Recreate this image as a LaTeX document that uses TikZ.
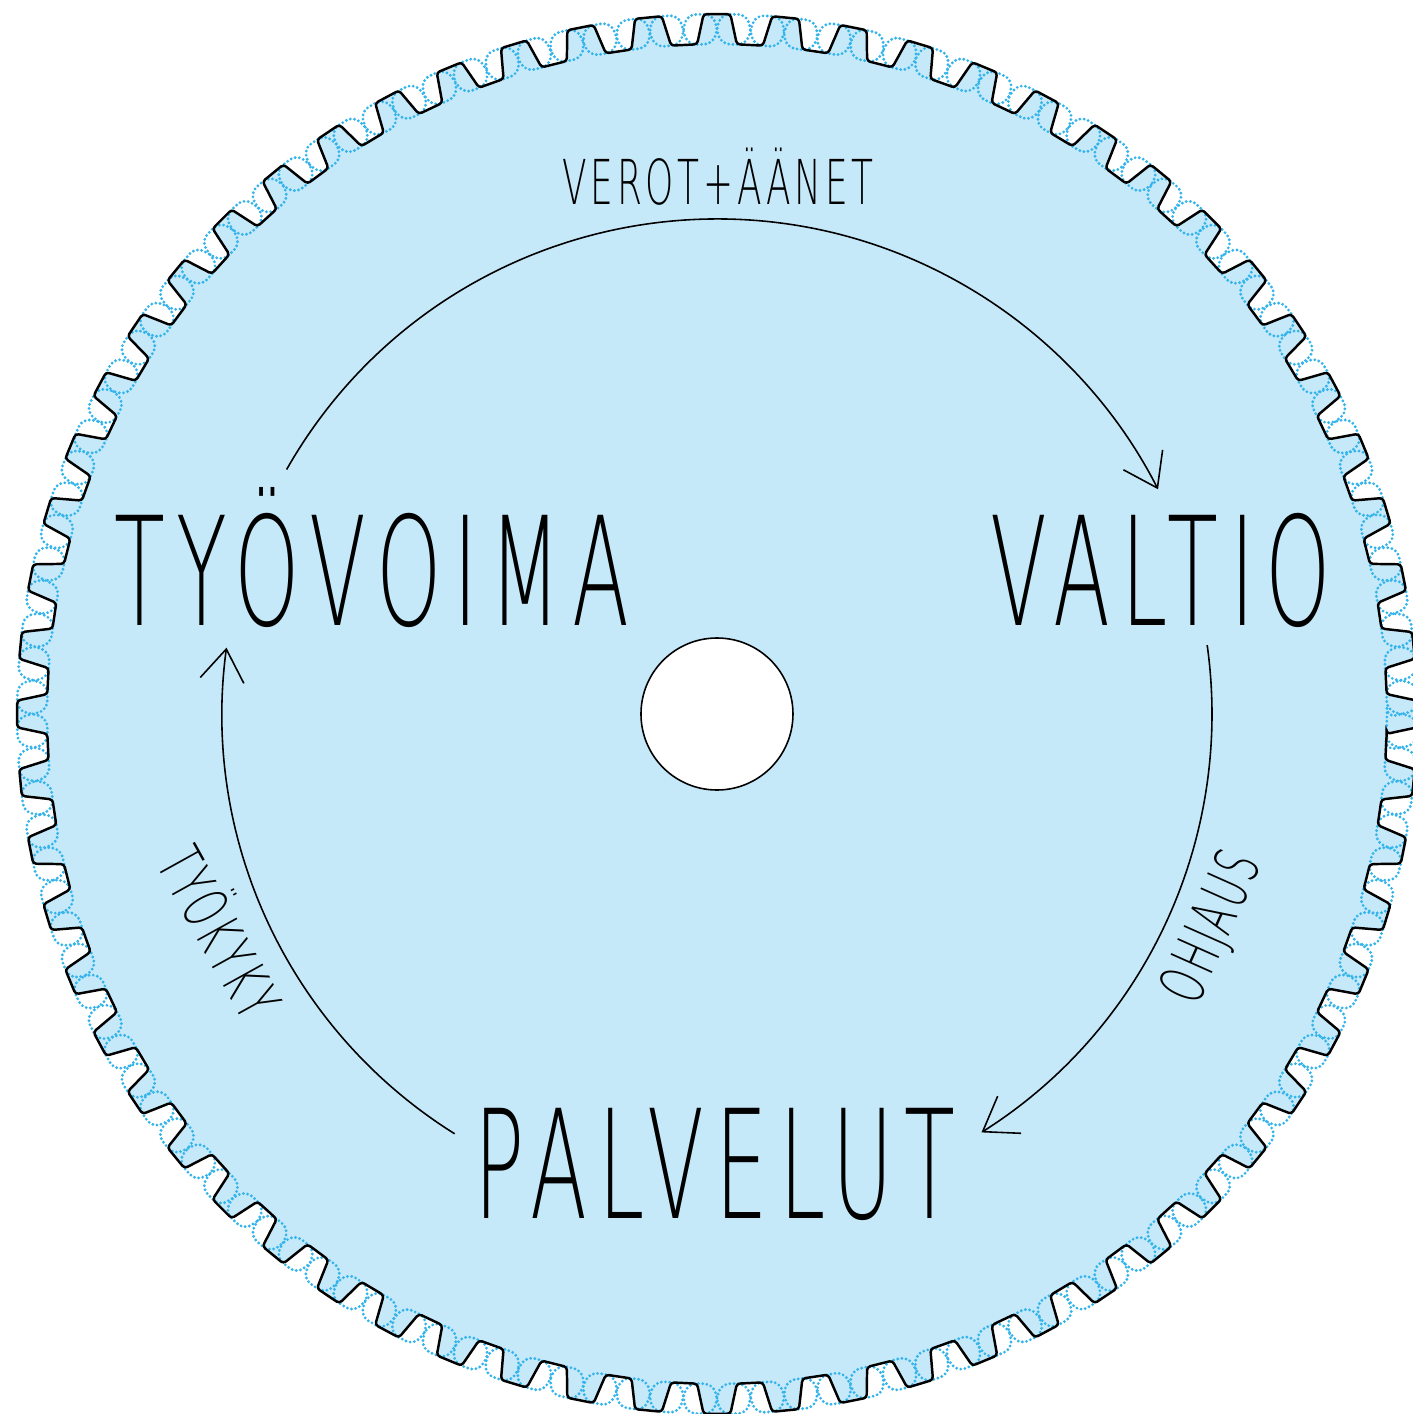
\documentclass[tikz,border=0pt]{standalone}
\usepackage{fontspec}
\usetikzlibrary{arrows.meta,positioning}
\newfontfamily\thinfont{DejaVuSans-ExtraLight.ttf}[FakeStretch=0.55, LetterSpace=7.5]
\newfontfamily\lightfont{DejaVuSans-ExtraLight.ttf}[FakeStretch=0.58, LetterSpace=6]
\definecolor{discblue}{HTML}{C6E9F9}
\definecolor{dotblue}{HTML}{34B4EA}
\newcommand{\gearrim}[1]{(#1-1.7:670) \foreach \k in {0,...,63}{ -- (#1+\k*5.625-1.7:670) -- (#1+\k*5.625-1.1:700) -- (#1+\k*5.625+1.1:700) -- (#1+\k*5.625+1.7:670)} -- cycle}

\begin{document}
\begin{tikzpicture}[
      x=0.01cm, y=0.01cm,
      bigword/.style={font=\thinfont\fontsize{43}{48}\selectfont, inner sep=0pt, anchor=base},
      smallword/.style={font=\lightfont\fontsize{17.6}{21}\selectfont, inner sep=0pt},
      rim/.style={draw=black, line width=0.7pt, rounded corners=0.9pt},
      dotrim/.style={draw=dotblue, line width=0.9pt, dash pattern=on 0pt off 1.2pt, line cap=round, rounded corners=2.6pt},
      flow/.style={-{Straight Barb[length=9pt, width=12.5pt]}, line width=0.45pt}
    ]
      \useasboundingbox (-717,-700) rectangle (696,714);

      \fill[discblue] \gearrim{0};
      \draw[dotrim] \gearrim{1.4};
      \draw[dotrim] \gearrim{-1.4};
      \draw[rim] \gearrim{0};

      \coordinate (hub) at (0,0);
      \draw[fill=white, line width=0.45pt] (hub) circle[radius=76];

      \node[bigword] (tyovoima) at (-345,89) {TYÖVOIMA};
      \node[bigword] (valtio) at (444,89) {VALTIO};
      \node[bigword] (palvelut) at (-2,-504) {PALVELUT};
      \node[smallword, anchor=base] (verot) at (1,509) {VEROT+ÄÄNET};
      \node[smallword, rotate=66] (ohjaus) at (497,-214) {OHJAUS};
      \node[smallword, rotate=-61] (tyokyky) at (-493,-216) {TYÖKYKY};

      \coordinate (verotstart) at (150.4:495);
      \coordinate (ohjausstart) at (8:495);
      \coordinate (tyokykystart) at (238:495);
      \draw[flow] (verotstart) arc[start angle=150.4, end angle=27, radius=495];
      \draw[flow] (ohjausstart) arc[start angle=8, end angle=-57.7, radius=495];
      \draw[flow] (tyokykystart) arc[start angle=238, end angle=172.3, radius=495];
    \end{tikzpicture}
\end{document}
